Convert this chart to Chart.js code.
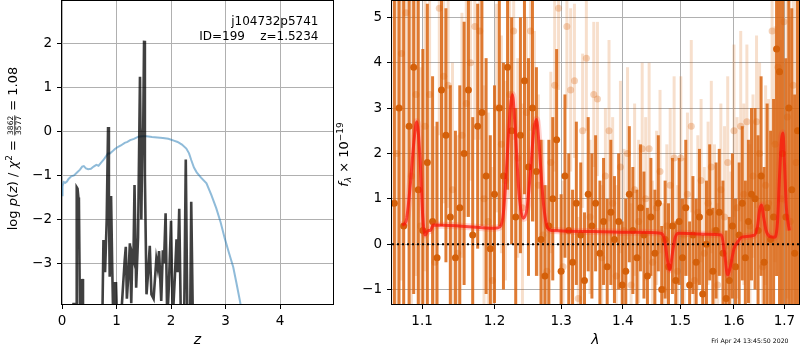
<!DOCTYPE html>
<html><head><meta charset="utf-8">
<script src="https://cdn.jsdelivr.net/npm/chart.js@4"></script>
<style>
html,body{margin:0;padding:0;background:#fff;}
#wrap{position:relative;width:800px;height:350px;}
canvas{position:absolute;left:0;top:0;}
</style></head><body>
<div id="wrap"><canvas id="c1" width="800" height="350"></canvas><canvas id="c2" width="800" height="350"></canvas></div>
<script>
// ---------- LEFT PANEL DATA ----------
const leftXMin = 0, leftXMax = 4.97, leftYMin = -3.92, leftYMax = 2.96;
const leftXTicks = [0, 1, 2, 3, 4];
const leftYTicks = [-3, -2, -1, 0, 1, 2];
const zBlue = [0,0.01,0.03,0.06,0.09,0.12,0.17,0.22,0.28,0.33,0.37,0.40,0.44,0.48,0.53,0.58,0.63,0.67,0.71,0.76,0.80,0.84,0.88,0.92,0.97,1.03,1.08,1.15,1.20,1.25,1.32,1.40,1.48,1.55,1.65,1.75,1.85,1.95,2.05,2.12,2.20,2.28,2.33,2.37,2.42,2.47,2.55,2.65,2.74,2.83,2.91,2.985,3.06,3.14,3.20,3.26,3.30];
const logpBlue = [-1.45,-1.25,-1.15,-1.17,-1.14,-1.08,-1.02,-1.0,-0.93,-0.87,-0.8,-0.79,-0.84,-0.86,-0.85,-0.80,-0.76,-0.78,-0.72,-0.65,-0.58,-0.50,-0.50,-0.46,-0.40,-0.35,-0.32,-0.26,-0.24,-0.20,-0.17,-0.12,-0.11,-0.11,-0.13,-0.14,-0.15,-0.17,-0.21,-0.24,-0.30,-0.39,-0.5,-0.65,-0.82,-0.93,-1.05,-1.18,-1.45,-1.75,-2.07,-2.43,-2.75,-3.08,-3.45,-3.83,-4.1];
const zBlack = [0.16,0.21,0.26,0.27,0.285,0.30,0.31,0.33,0.36,0.37,0.385,0.74,0.76,0.79,0.82,0.845,0.86,0.875,0.90,0.92,0.94,0.97,0.99,1.01,1.08,1.12,1.15,1.17,1.19,1.22,1.245,1.27,1.29,1.31,1.33,1.36,1.395,1.43,1.455,1.47,1.49,1.505,1.52,1.55,1.58,1.61,1.64,1.68,1.73,1.755,1.78,1.82,1.85,1.87,1.90,1.93,1.96,2.0,2.03,2.07,2.10,2.12,2.15,2.18,2.24,2.27,2.30,2.35,2.37,2.40];
const logpBlack = [-4.3,-3.92,-3.92,-1.27,-1.3,-1.50,-1.55,-4.3,-4.3,-3.35,-4.3,-4.3,-2.47,-3.2,-2.0,0.10,-1.6,-3.3,-1.47,-3.0,-4.3,-3.45,-3.45,-4.3,-4.3,-3.5,-2.92,-2.62,-3.8,-3.2,-2.54,-3.9,-2.8,-2.9,-1.22,-3.55,-2.4,1.24,-2.0,-0.5,0.1,2.06,-1.0,-3.7,-3.2,-2.6,-3.7,-3.8,-2.9,-3.1,-2.72,-3.85,-2.7,-3.0,-1.86,-4.3,-3.5,-2.03,-4.3,-3.3,-2.45,-3.2,-1.76,-4.3,-4.3,-0.64,-4.3,-4.3,-1.6,-4.3];
const objName = 'j104732p5741';
const objInfo = 'ID=199    z=1.5234';

// ---------- RIGHT PANEL DATA ----------
const rightXMin = 1.061, rightXMax = 1.730, rightYMin = -1.32, rightYMax = 5.36;
const rightXTicks = [1.1, 1.2, 1.3, 1.4, 1.5, 1.6, 1.7];
const rightYTicks = [-1, 0, 1, 2, 3, 4, 5];
const lamDark = [
1.064,1.070,1.076,1.083,1.089,1.095,1.101,1.107,1.114,1.120,
1.126,1.132,1.138,1.145,1.151,1.157,1.163,1.169,1.176,1.182,
1.188,1.194,1.200,1.207,1.213,1.219,1.225,1.231,1.238,1.244,
1.250,1.256,1.262,1.269,1.275,1.281,1.287,1.293,1.300,1.306,
1.312,1.318,1.324,1.331,1.337,1.343,1.349,1.355,1.362,1.368,
1.374,1.380,1.386,1.393,1.399,1.405,1.411,1.417,1.424,1.430,
1.436,1.442,1.448,1.455,1.461,1.467,1.473,1.479,1.486,1.492,
1.498,1.504,1.510,1.517,1.523,1.529,1.535,1.541,1.548,1.554,
1.560,1.566,1.572,1.579,1.585,1.591,1.597,1.603,1.610,1.616,
1.622,1.628,1.634,1.641,1.647,1.653,1.659,1.665,1.672,1.678,
1.684,1.690,1.696,1.703,1.709,1.715,1.721,1.727];
const fluxDark = [
0.9,3.0,0.4,2.6,3.9,1.2,0.3,1.8,0.5,-0.3,
3.4,2.4,0.6,-0.3,0.8,2.0,3.4,0.2,2.6,2.9,
1.5,-0.1,1.1,3.0,1.5,3.9,2.5,0.6,2.4,3.6,
1.7,3.0,1.6,0.1,-0.7,0.4,1.0,2.3,-0.6,1.5,
0.3,-0.4,0.9,0.2,-0.8,1.1,0.4,0.9,-0.2,0.5,
-0.5,0.7,0.1,0.5,-0.9,-0.6,1.1,0.3,-0.3,0.8,
0.2,-0.7,0.6,-0.2,0.9,-1.0,0.1,-0.5,0.4,-0.8,
0.5,-0.3,0.8,-0.9,0.2,-0.4,0.6,-1.1,0.0,0.7,
-0.6,0.3,0.7,-0.2,-1.2,-0.8,0.4,-0.5,0.2,0.9,
-0.3,0.5,1.1,1.0,0.3,1.5,-0.4,0.8,0.1,0.6,
4.3,3.8,2.0,0.6,3.0,1.2,-0.2,2.5];
const errDark = [
5.5,5.5,5.5,5,5,4.5,4,3.5,3.2,3.0,
3.0,2.8,2.9,2.8,2.7,2.9,2.8,2.6,2.7,2.5,
2.6,2.5,2.4,2.6,2.5,2.7,2.5,2.4,2.6,2.5,
2.4,2.5,2.3,2.2,2.0,1.9,1.8,2.0,1.7,1.8,
1.7,1.6,1.8,1.6,1.5,1.7,1.6,1.5,1.6,1.4,
1.5,1.6,1.4,1.5,1.4,1.6,1.5,1.4,1.5,1.4,
1.4,1.5,1.3,1.4,1.5,1.4,1.3,1.4,1.5,1.3,
1.4,1.3,1.5,1.4,1.3,1.4,1.5,1.3,1.4,1.5,
1.4,1.5,1.4,1.6,1.5,1.4,1.6,1.5,1.6,1.7,
1.7,1.8,1.9,2.0,2.1,2.2,2.1,2.3,2.4,2.6,
5,5.5,4.5,3.5,6,4,3.5,6];
const lamLight = [
1.067,1.073,1.079,1.086,1.092,1.098,1.104,1.110,1.117,1.123,
1.129,1.135,1.141,1.148,1.154,1.160,1.166,1.172,1.179,1.185,
1.191,1.197,1.203,1.210,1.216,1.222,1.228,1.234,1.241,1.247,
1.253,1.259,1.265,1.272,1.278,1.284,1.290,1.296,1.303,1.309,
1.315,1.321,1.327,1.334,1.340,1.346,1.352,1.358,1.365,1.371,
1.377,1.383,1.389,1.396,1.402,1.408,1.414,1.420,1.427,1.433,
1.439,1.445,1.451,1.458,1.464,1.470,1.476,1.482,1.489,1.495,
1.501,1.507,1.513,1.520,1.526,1.532,1.538,1.544,1.551,1.557,
1.563,1.569,1.575,1.582,1.588,1.594,1.600,1.606,1.613,1.619,
1.625,1.631,1.637,1.644,1.650,1.656,1.662,1.668,1.675,1.681,
1.687,1.693,1.699,1.706,1.712,1.718,1.724];
const fluxLight = [
2.0,4.2,5.1,1.5,3.3,0.4,2.6,3.3,-0.4,5.2,
3.7,3.5,1.2,-0.2,2.4,3.1,4.0,4.8,4.7,1.0,
0.5,-0.8,3.0,2.2,1.4,3.3,4.7,1.9,0.8,2.9,
4.7,2.6,1.3,0.2,-0.6,1.8,3.5,5.2,-0.5,4.8,
3.4,3.6,-1.2,2.5,4.1,0.6,3.3,3.2,-0.3,1.5,
2.5,0.9,-0.7,1.7,0.3,2.0,-0.9,1.2,0.5,2.1,
1.0,2.1,-0.4,0.8,1.6,-1.0,0.4,1.3,1.9,-0.6,
1.9,0.2,1.1,2.6,-0.8,0.7,1.4,-0.2,0.9,1.7,
0.3,-0.9,1.2,0.6,1.8,-0.4,2.5,0.8,2.6,1.1,
2.7,0.4,1.5,2.7,2.0,-0.5,1.3,0.9,4.7,2.2,
3.9,1.0,4.9,2.8,0.5,3.5,1.8];
const errLight = [
5,5,4.5,4.5,4,3.5,3.2,3,3,2.8,
2.8,2.7,2.8,2.6,2.7,2.5,2.6,2.5,2.4,2.5,
2.4,2.5,2.3,2.4,2.2,2.3,2.4,2.2,2.3,2.1,
2.2,2.1,2.0,2.1,1.9,2.0,1.9,1.8,1.9,1.8,
1.8,1.7,1.8,1.7,1.6,1.7,1.6,1.7,1.6,1.5,
2.0,1.9,2.0,1.9,1.8,1.9,1.8,1.9,1.8,1.9,
1.8,1.9,1.8,1.7,1.8,1.9,1.8,1.7,1.8,1.9,
1.8,1.7,1.8,1.9,1.8,1.7,1.8,1.9,1.8,1.9,
1.9,1.8,1.9,2.0,1.9,2.0,1.9,2.0,2.1,2.0,
1.7,1.8,1.8,1.9,2.0,2.1,2.2,2.3,2.5,2.6,
3,3.5,4,4,4.5,4.5,5];
const lamModel = [1.074,1.079,1.084,1.089,1.093,1.097,1.101,1.104,1.108,1.111,1.115,1.150,1.200,1.208,1.213,1.218,1.223,1.226,1.230,1.236,1.242,1.248,1.253,1.258,1.262,1.266,1.272,1.278,1.285,1.350,1.420,1.465,1.472,1.477,1.481,1.486,1.491,1.497,1.550,1.576,1.582,1.588,1.593,1.600,1.607,1.617,1.640,1.646,1.650,1.654,1.658,1.663,1.670,1.680,1.686,1.690,1.694,1.697,1.700,1.704,1.710];
const fluxModel = [0.42,0.5,1.2,2.2,2.7,2.0,0.6,0.2,0.3,0.3,0.42,0.4,0.35,0.38,0.7,1.8,3.0,3.3,2.6,1.1,0.57,0.8,1.6,2.5,2.75,2.2,1.0,0.4,0.3,0.28,0.26,0.24,0.1,-0.35,-0.57,-0.2,0.15,0.24,0.22,0.2,-0.2,-0.68,-0.5,-0.1,0.05,0.16,0.2,0.4,0.75,0.86,0.6,0.3,0.17,0.15,0.5,1.5,2.3,2.45,1.8,0.8,0.3];
const zeroLevel = 0;
const stamp = 'Fri Apr 24 13:45:50 2020';

// ---------- helpers ----------
const FAM = '"DejaVu Sans"';
Chart.defaults.font.family = FAM;
Chart.defaults.color = '#000';
const fmt = v => (v < 0 ? '\u2212' + Math.abs(v) : String(v));
const pts = (xs, ys) => xs.map((x, i) => ({x, y: ys[i]}));

function drawRuns(ctx, runs, cx, cy, rotate) {
  ctx.save();
  ctx.translate(cx, cy);
  if (rotate) ctx.rotate(-Math.PI / 2);
  const font = r => `${r.style || 'normal'} ${r.size}px ${FAM}`;
  const widths = runs.map(r => {
    ctx.font = font(r);
    if (r.frac) return Math.max(ctx.measureText(r.frac[0]).width, ctx.measureText(r.frac[1]).width) + 2;
    return ctx.measureText(r.t).width;
  });
  const total = widths.reduce((a, b) => a + b, 0);
  let x = -total / 2;
  ctx.fillStyle = '#000';
  ctx.textBaseline = 'alphabetic';
  runs.forEach((r, i) => {
    ctx.font = font(r);
    const w = widths[i];
    if (r.frac) {
      ctx.textAlign = 'center';
      ctx.fillText(r.frac[0], x + w / 2, r.numDy);
      ctx.fillText(r.frac[1], x + w / 2, r.denDy);
      ctx.fillRect(x + 0.5, r.barDy, w - 1, 0.8);
    } else {
      ctx.textAlign = 'left';
      ctx.fillText(r.t, x, r.dy || 0);
    }
    x += w;
  });
  ctx.restore();
}

function frame(chart) {
  const {ctx, chartArea: a} = chart;
  ctx.save();
  ctx.strokeStyle = '#000';
  ctx.lineWidth = 1;
  ctx.strokeRect(a.left - 0.5, a.top - 0.5, a.right - a.left + 1, a.bottom - a.top + 1);
  ctx.restore();
}

function axisCommon(extra) {
  return Object.assign({
    grid: {color: '#b0b0b0', tickColor: '#000', tickLength: 5, lineWidth: 1, drawOnChartArea: true},
    border: {display: false},
  }, extra);
}

// ---------- LEFT CHART ----------
const leftPlugin = {
  id: 'leftText',
  afterDraw(chart) {
    frame(chart);
    const ctx = chart.ctx, a = chart.chartArea;
    ctx.save();
    ctx.fillStyle = '#000';
    ctx.font = `12px ${FAM}`;
    ctx.textAlign = 'right';
    ctx.textBaseline = 'alphabetic';
    ctx.fillText(objName, a.right - 14.5, 25);
    ctx.fillText(objInfo, a.right - 14.5, 39.5);
    ctx.restore();
    drawRuns(ctx, [
      {t: 'log ', size: 13},
      {t: 'p', size: 13, style: 'italic'},
      {t: '(', size: 13},
      {t: 'z', size: 13, style: 'italic'},
      {t: ') / ', size: 13},
      {t: '\u03c7', size: 13, style: 'italic'},
      {t: '2', size: 9, dy: -5},
      {t: ' = ', size: 13},
      {frac: ['3862', '3577'], size: 7.5, numDy: -3.8, denDy: 4.2, barDy: -2.6},
      {t: ' = 1.08', size: 13}
    ], 17, (a.top + a.bottom) / 2 - 4, true);
  }
};

new Chart(document.getElementById('c1'), {
  type: 'scatter',
  data: {
    datasets: [
      {data: pts(zBlack, logpBlack), showLine: true, borderColor: 'rgba(0,0,0,0.75)', borderWidth: 2.6, pointRadius: 0, order: 0, clip: 0, borderJoinStyle: 'miter'},
      {data: pts(zBlue, logpBlue), showLine: true, borderColor: 'rgba(31,119,180,0.5)', borderWidth: 2, pointRadius: 0, order: 1, clip: 0}
    ]
  },
  options: {
    responsive: false, animation: false, events: [],
    layout: {padding: {left: 0, top: 1, right: 467, bottom: 0}, autoPadding: false},
    plugins: {legend: {display: false}, tooltip: {enabled: false}},
    scales: {
      x: axisCommon({
        type: 'linear', min: leftXMin, max: leftXMax,
        afterBuildTicks: s => { s.ticks = leftXTicks.map(v => ({value: v})); },
        afterFit: s => { s.height = 46; s.paddingLeft = 0; s.paddingRight = 0; },
        ticks: {font: {size: 13.5}, color: '#000', padding: 4, maxRotation: 0, autoSkip: false, callback: v => fmt(v)},
        title: {display: true, text: 'z', font: {size: 14, style: 'italic'}, color: '#000', padding: {top: 0, bottom: 1}}
      }),
      y: axisCommon({
        type: 'linear', min: leftYMin, max: leftYMax,
        afterBuildTicks: s => { s.ticks = leftYTicks.map(v => ({value: v})); },
        afterFit: s => { s.width = 62; s.paddingTop = 0; s.paddingBottom = 0; },
        ticks: {font: {size: 13.5}, color: '#000', padding: 5, autoSkip: false, callback: v => fmt(v)}
      })
    }
  },
  plugins: [leftPlugin]
});

// ---------- RIGHT CHART ----------
const errPlugin = {
  id: 'errbars',
  beforeDatasetsDraw(chart) {
    const {ctx, chartArea: a, scales: {x, y}} = chart;
    ctx.save();
    ctx.beginPath();
    ctx.rect(a.left, a.top, a.right - a.left, a.bottom - a.top);
    ctx.clip();
    ctx.lineWidth = 3;
    ctx.lineCap = 'butt';
    const draw = (lam, f, e, color) => {
      ctx.strokeStyle = color;
      for (let i = 0; i < lam.length; i++) {
        const px = x.getPixelForValue(lam[i]);
        ctx.beginPath();
        ctx.moveTo(px, y.getPixelForValue(f[i] - e[i]));
        ctx.lineTo(px, y.getPixelForValue(f[i] + e[i]));
        ctx.stroke();
      }
    };
    draw(lamLight, fluxLight, errLight, 'rgba(217,95,2,0.2)');
    draw(lamDark, fluxDark, errDark, 'rgba(217,100,15,0.85)');
    ctx.restore();
  },
  afterDraw(chart) {
    frame(chart);
    const ctx = chart.ctx, a = chart.chartArea;
    drawRuns(ctx, [
      {t: 'f', size: 13, style: 'italic'},
      {t: '\u03bb', size: 9, style: 'italic', dy: 2.5},
      {t: ' \u00d7 10', size: 13},
      {t: '\u221219', size: 9, dy: -5.5}
    ], 348, (a.top + a.bottom) / 2 + 2, true);
    ctx.save();
    ctx.fillStyle = '#000';
    ctx.font = `6.2px ${FAM}`;
    ctx.textAlign = 'right';
    ctx.textBaseline = 'alphabetic';
    ctx.fillText(stamp, 788.5, 343);
    ctx.restore();
  }
};

new Chart(document.getElementById('c2'), {
  type: 'scatter',
  data: {
    datasets: [
      {data: pts(lamModel, fluxModel), showLine: true, borderColor: 'rgba(250,20,10,0.72)', borderWidth: 3, pointRadius: 0, cubicInterpolationMode: 'monotone', order: 0, clip: 0},
      {data: pts(lamModel, fluxModel), showLine: true, borderColor: 'rgba(255,60,40,0.22)', borderWidth: 7, pointRadius: 0, cubicInterpolationMode: 'monotone', order: 1, clip: 0},
      {data: [{x: rightXMin, y: zeroLevel}, {x: rightXMax, y: zeroLevel}], showLine: true, borderColor: '#000', borderWidth: 2, borderDash: [2, 3], pointRadius: 0, order: 2, clip: 0},
      {data: pts(lamDark, fluxDark), pointRadius: 3.5, backgroundColor: 'rgb(212,96,10)', borderWidth: 0, order: 3, clip: 0},
      {data: pts(lamLight, fluxLight), pointRadius: 3.5, backgroundColor: 'rgba(217,95,2,0.28)', borderWidth: 0, order: 4, clip: 0}
    ]
  },
  options: {
    responsive: false, animation: false, events: [],
    layout: {padding: {left: 340, top: 1, right: 1, bottom: 0}, autoPadding: false},
    plugins: {legend: {display: false}, tooltip: {enabled: false}},
    scales: {
      x: axisCommon({
        type: 'logarithmic', min: rightXMin, max: rightXMax,
        afterBuildTicks: s => { s.ticks = rightXTicks.map(v => ({value: v})); },
        afterFit: s => { s.height = 46; s.paddingLeft = 0; s.paddingRight = 0; },
        ticks: {font: {size: 13.5}, color: '#000', padding: 4, maxRotation: 0, autoSkip: false, callback: v => Number(v).toFixed(1)},
        title: {display: true, text: '\u03bb', font: {size: 14, style: 'italic'}, color: '#000', padding: {top: 0, bottom: 1}}
      }),
      y: axisCommon({
        type: 'linear', min: rightYMin, max: rightYMax,
        afterBuildTicks: s => { s.ticks = rightYTicks.map(v => ({value: v})); },
        afterFit: s => { s.width = 52; s.paddingTop = 0; s.paddingBottom = 0; },
        ticks: {font: {size: 13.5}, color: '#000', padding: 5, autoSkip: false, callback: v => fmt(v)}
      })
    }
  },
  plugins: [errPlugin]
});
</script>
</body></html>
